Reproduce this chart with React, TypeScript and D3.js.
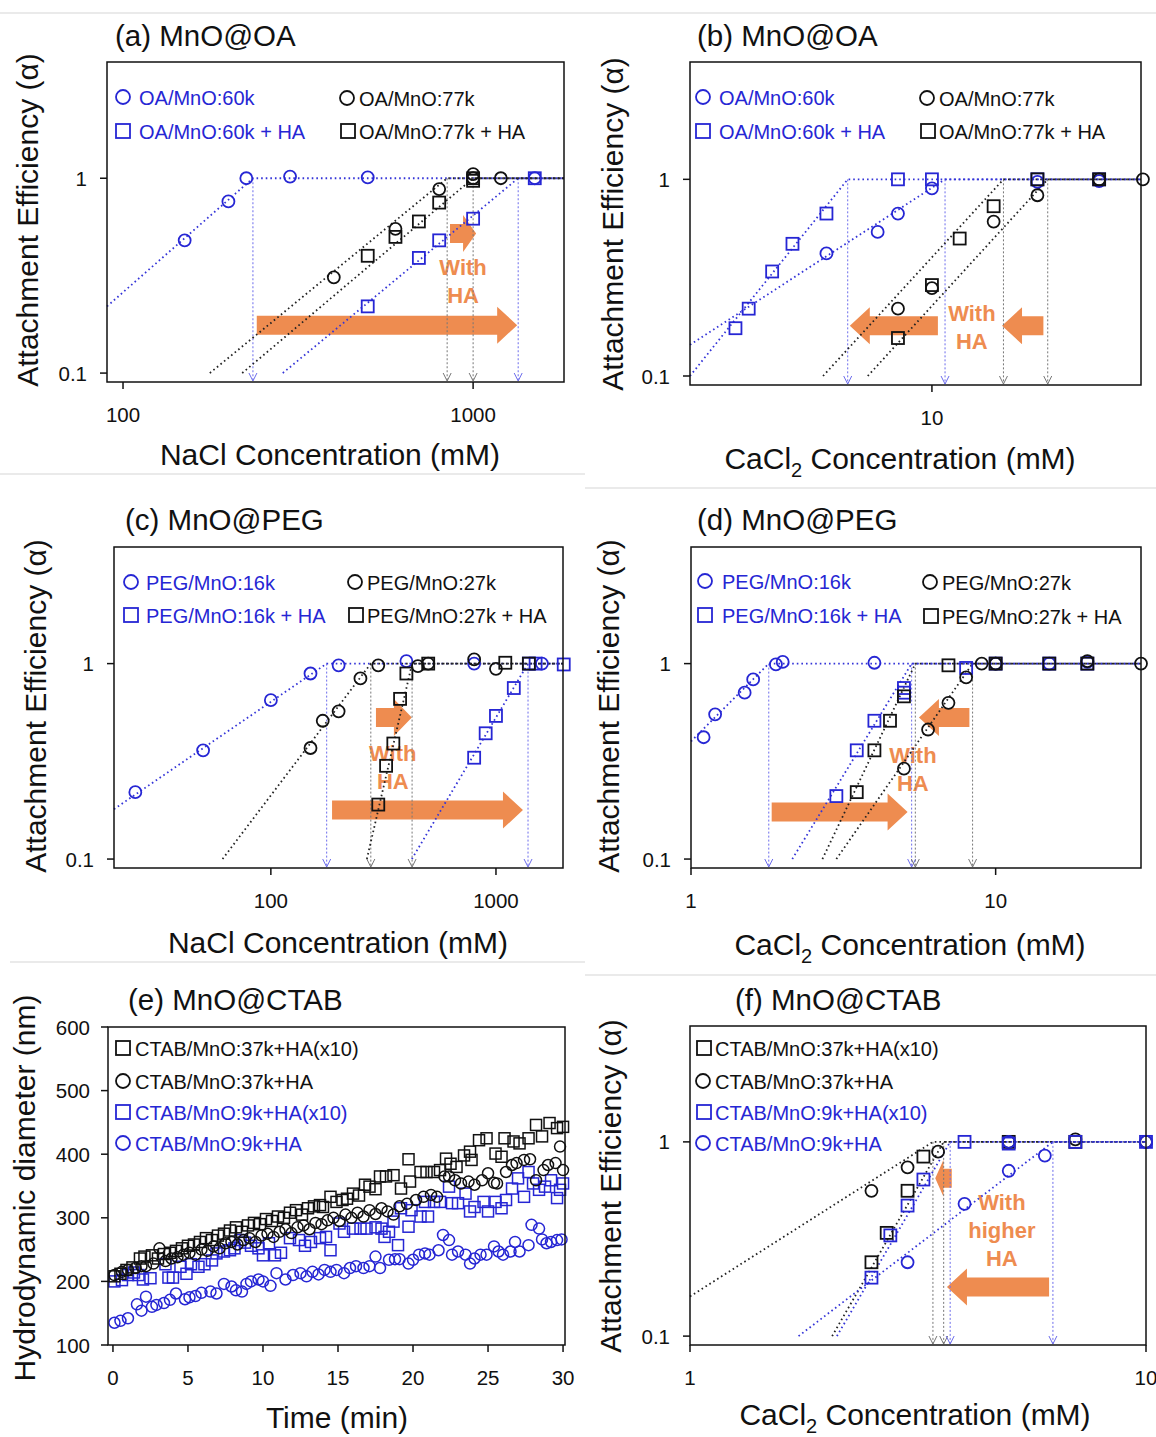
import React from "react";
import * as d3 from "d3";

// ---------- (a) MnO@OA, NaCl ----------
const aOA60 = [[150, 0.48], [200, 0.76], [225, 1.0], [300, 1.02], [500, 1.01], [1500, 1.0]];
const aOA60HA = [[500, 0.22], [700, 0.39], [800, 0.48], [1000, 0.62], [1500, 1.0]];
const aOA77 = [[400, 0.31], [600, 0.55], [800, 0.88], [1000, 1.05], [1000, 1.0], [1200, 1.0]];
const aOA77HA = [[500, 0.4], [600, 0.5], [700, 0.6], [800, 0.75], [1000, 1.0], [1000, 0.97]];
// fits: [start conc, start alpha, critical conc]
const aFit60 = [90, 0.22, 235];
const aFit60HA = [286, 0.1, 1345];
const aFit77 = [177, 0.1, 843];
const aFit77HA = [219, 0.1, 1000];
const aArrows = [[859, 1020, 0.52], [241, 1336, 0.176]];
const aNote = [936, 0.35];

// ---------- (b) MnO@OA, CaCl2 ----------
const bOA60 = [[5, 0.42], [7, 0.54], [8, 0.67], [10, 0.9], [20, 0.97], [30, 0.98]];
const bOA60HA = [[2.75, 0.175], [3, 0.22], [3.5, 0.34], [4, 0.47], [5, 0.67], [8, 1.0], [10, 1.0], [20, 1.0], [30, 1.0]];
const bOA77 = [[8, 0.22], [10, 0.28], [15, 0.61], [20, 0.83], [30, 1.0], [40, 1.0]];
const bOA77HA = [[8, 0.156], [10, 0.29], [12, 0.5], [15, 0.73], [20, 1.0], [30, 1.0]];
const bFit60 = [2.04, 0.144, 10.9];
const bFit60HA = [2.04, 0.1, 5.75];
const bFit77 = [6.56, 0.1, 21.4];
const bFit77HA = [4.89, 0.1, 16];
const bArrows = [[10.4, 5.83, 0.18], [20.8, 15.85, 0.18]];
const bNote = [13.0, 0.21];

// ---------- (c) MnO@PEG, NaCl ----------
const cPEG16 = [[25, 0.22], [50, 0.36], [100, 0.65], [150, 0.89], [200, 0.98], [400, 1.03], [800, 1.0], [1600, 1.0]];
const cPEG16HA = [[800, 0.33], [900, 0.44], [1000, 0.54], [1200, 0.75], [1400, 1.0], [1500, 1.0], [2000, 0.99]];
const cPEG27 = [[150, 0.37], [170, 0.51], [200, 0.57], [250, 0.84], [300, 0.98], [450, 0.97], [500, 1.0], [800, 1.05], [1000, 0.94]];
const cPEG27HA = [[300, 0.19], [325, 0.3], [350, 0.39], [375, 0.66], [400, 0.89], [500, 1.0], [1100, 1.01], [1400, 1.0]];
const cFit16 = [20.1, 0.18, 177];
const cFit16HA = [423, 0.1, 1388];
const cFit27 = [61, 0.1, 278];
const cFit27HA = [267, 0.1, 424];
const cArrows = [[293, 423, 0.53], [187, 1318, 0.178]];
const cNote = [348, 0.35];

// ---------- (d) MnO@PEG, CaCl2 ----------
const dPEG16 = [[1.1, 0.42], [1.2, 0.55], [1.5, 0.71], [1.6, 0.83], [1.9, 0.99], [2, 1.02], [4, 1.01], [10, 1.0], [15, 1.0], [20, 1.02]];
const dPEG16HA = [[3, 0.21], [3.5, 0.36], [4, 0.51], [5, 0.71], [5, 0.75], [8, 0.95], [10, 1.0], [15, 1.0], [20, 1.0]];
const dPEG27 = [[5, 0.29], [6, 0.46], [7, 0.63], [8, 0.85], [9, 1.0], [10, 1.0], [20, 1.03], [30, 1.0]];
const dPEG27HA = [[3.5, 0.22], [4, 0.36], [4.5, 0.51], [5, 0.68], [7, 0.98], [10, 1.0], [15, 1.0], [20, 1.0]];
const dFit16 = [1, 0.4, 1.8];
const dFit16HA = [2.15, 0.1, 5.3];
const dFit27 = [3.0, 0.1, 8.4];
const dFit27HA = [2.7, 0.1, 5.45];
const dArrows = [[1.84, 5.14, 0.174], [8.2, 5.6, 0.53]];
const dNote = [5.35, 0.34];

// ---------- (e) MnO@CTAB, time series [min, nm] ----------
const e37x10 = [[0.1, 208], [0.5, 212], [0.9, 218], [1.3, 222], [1.8, 236], [2.1, 239], [2.6, 241], [3.0, 236], [3.4, 243], [3.8, 245], [4.2, 248], [4.6, 252], [5.0, 256], [5.4, 258], [5.8, 262], [6.2, 268], [6.6, 265], [7.0, 272], [7.4, 275], [7.8, 280], [8.2, 285], [8.6, 278], [9.0, 288], [9.4, 292], [9.8, 290], [10.2, 298], [10.6, 295], [11.0, 302], [11.4, 300], [11.8, 308], [12.2, 312], [12.6, 305], [13.0, 315], [13.4, 318], [13.8, 320], [14.0, 317], [14.5, 333], [14.9, 325], [15.3, 328], [15.6, 330], [16.0, 338], [16.4, 335], [16.8, 352], [17.1, 349], [17.5, 345], [17.8, 365], [18.2, 365], [18.7, 367], [19.2, 346], [19.7, 392], [19.8, 357], [20.5, 372], [20.9, 372], [21.4, 372], [21.8, 375], [22.2, 393], [22.5, 385], [22.9, 380], [23.4, 398], [23.8, 404], [23.9, 391], [24.4, 422], [24.9, 425], [25.5, 401], [25.9, 396], [26.1, 425], [26.7, 420], [27.1, 417], [27.7, 425], [28.2, 446], [28.6, 428], [29.1, 449], [29.6, 441], [30.0, 443]];
const e37 = [[0.1, 210], [0.6, 215], [1.0, 218], [1.5, 221], [1.9, 224], [2.2, 224], [2.7, 228], [3.1, 252], [3.5, 232], [3.9, 236], [4.3, 238], [4.7, 242], [5.1, 245], [5.5, 242], [5.9, 250], [6.3, 248], [6.7, 255], [7.1, 252], [7.5, 260], [7.9, 262], [8.3, 258], [8.7, 265], [9.1, 268], [9.5, 262], [9.9, 272], [10.3, 275], [10.7, 270], [11.1, 278], [11.5, 282], [11.9, 276], [12.3, 285], [12.7, 288], [13.1, 282], [13.5, 292], [13.9, 290], [14.3, 296], [14.7, 300], [15.1, 295], [15.5, 305], [15.9, 300], [16.3, 308], [16.7, 302], [17.1, 312], [17.5, 306], [17.9, 315], [18.3, 310], [18.7, 305], [19.1, 318], [19.6, 322], [20.2, 328], [20.7, 333], [21.2, 336], [21.6, 333], [22.1, 365], [22.4, 365], [22.8, 359], [23.2, 354], [23.7, 357], [24.1, 352], [24.6, 359], [25.0, 370], [25.4, 355], [25.6, 354], [26.2, 372], [26.6, 383], [26.9, 386], [27.4, 391], [27.8, 392], [28.2, 359], [28.7, 375], [29.0, 383], [29.5, 386], [29.8, 412], [30.0, 375]];
const e9x10 = [[0.1, 200], [0.6, 202], [1.0, 210], [1.4, 214], [1.7, 210], [2.0, 203], [2.5, 205], [3.5, 227], [3.7, 206], [4.0, 206], [4.5, 223], [4.9, 212], [5.2, 227], [5.7, 223], [6.1, 227], [6.6, 233], [6.9, 244], [7.4, 247], [7.8, 249], [8.1, 252], [8.5, 265], [8.8, 261], [9.2, 256], [9.7, 252], [10.0, 241], [10.4, 260], [10.8, 241], [11.2, 245], [11.8, 268], [12.4, 265], [12.8, 256], [13.2, 262], [13.8, 268], [14.2, 270], [14.5, 249], [15.1, 291], [15.4, 278], [16.0, 283], [16.5, 283], [16.9, 283], [17.5, 285], [17.9, 283], [18.1, 270], [18.4, 278], [18.7, 294], [19.0, 257], [19.2, 315], [19.7, 286], [19.9, 312], [20.5, 302], [20.8, 325], [21.0, 302], [21.4, 325], [21.8, 325], [22.4, 349], [22.6, 323], [23.0, 323], [23.5, 338], [23.8, 310], [24.1, 317], [24.7, 325], [25.0, 310], [25.5, 325], [25.9, 315], [26.2, 328], [26.6, 346], [27.0, 362], [27.4, 333], [27.7, 372], [28.0, 354], [28.4, 344], [28.8, 349], [29.2, 359], [29.6, 331], [29.8, 344], [30.0, 354]];
const e9 = [[0.1, 135], [0.5, 138], [1.0, 142], [1.6, 164], [1.9, 154], [2.2, 176], [2.6, 160], [2.9, 163], [3.4, 166], [3.8, 171], [4.2, 181], [4.8, 172], [5.1, 175], [5.5, 177], [5.9, 182], [6.5, 184], [6.9, 181], [7.4, 196], [7.9, 192], [8.2, 186], [8.6, 184], [8.9, 196], [9.2, 200], [9.7, 203], [10.0, 200], [10.5, 193], [10.9, 213], [11.5, 203], [12.0, 210], [12.5, 213], [12.9, 208], [13.3, 215], [13.7, 211], [14.1, 218], [14.5, 215], [14.9, 218], [15.4, 213], [15.8, 221], [16.2, 224], [16.7, 221], [17.1, 224], [17.5, 239], [17.8, 221], [18.4, 234], [18.8, 235], [19.1, 235], [19.7, 228], [20.0, 234], [20.4, 242], [20.8, 244], [21.1, 242], [21.7, 249], [22.0, 273], [22.4, 265], [22.6, 242], [23.0, 247], [23.5, 242], [23.8, 228], [24.1, 236], [24.5, 242], [24.9, 242], [25.4, 255], [25.7, 247], [26.0, 242], [26.5, 247], [26.8, 262], [27.1, 247], [27.7, 257], [27.9, 289], [28.4, 283], [28.6, 266], [28.9, 260], [29.2, 262], [29.6, 265], [29.9, 266]];
const eTimeTicks = [0, 5, 10, 15, 20, 25, 30];
const eSizeTicks = [100, 200, 300, 400, 500, 600];

// ---------- (f) MnO@CTAB, CaCl2 ----------
const f37x10 = [[2.5, 0.24], [2.7, 0.34], [3, 0.56], [3.25, 0.84], [5, 1.0], [7, 1.0]];
const f37 = [[2.5, 0.56], [3, 0.74], [3.5, 0.89], [5, 1.0], [7, 1.03], [10, 1.0]];
const f9x10 = [[2.5, 0.2], [2.75, 0.33], [3, 0.47], [3.25, 0.64], [4, 1.0], [5, 0.98], [7, 1.0], [10, 1.0]];
const f9 = [[3, 0.24], [4, 0.48], [5, 0.71], [6, 0.85], [5, 1.0], [10, 1.0]];
const fFit37x10 = [2.05, 0.1, 3.6];
const fFit37 = [1, 0.16, 3.41];
const fFit9x10 = [2.1, 0.1, 3.72];
const fFit9 = [1.73, 0.1, 6.25];
const fArrows = [[3.75, 3.45, 0.65], [6.13, 3.66, 0.179]];
const fNote = [4.83, 0.49];

const alphaTicks = [0.1, 1];
const Y_DOMAIN = [0.09, 3.95];

const FONT = "'Liberation Sans', Arial, Helvetica, sans-serif";
const BLUE = "#2626d4";
const BLACK = "#111111";
const ORANGE = "#ee8c50";

function Marker({ shape, cx, cy, color, s, sw }: any) {
  if (shape === "circle")
    return <circle cx={cx} cy={cy} r={s / 2} fill="none" stroke={color} strokeWidth={sw} />;
  return <rect x={cx - s / 2} y={cy - s / 2} width={s} height={s} fill="none" stroke={color} strokeWidth={sw} />;
}

function arrowPath(x1: number, x2: number, y: number) {
  const dir = Math.sign(x2 - x1);
  const hl = Math.min(20, Math.abs(x2 - x1) * 0.5);
  const xb = x2 - dir * hl;
  const sh = 9.5, hh = 18.5;
  return `M${x1},${y - sh}L${xb},${y - sh}L${xb},${y - hh}L${x2},${y}L${xb},${y + hh}L${xb},${y + sh}L${x1},${y + sh}Z`;
}

const cacl2 = (
  <>
    CaCl<tspan fontSize={20} dy={8}>2</tspan><tspan dy={-8}> Concentration (mM)</tspan>
  </>
);

function AlphaPanel({ p }: any) {
  const x = d3.scaleLog().domain(p.xDomain).range([p.left, p.right]);
  const y = d3.scaleLog().domain(Y_DOMAIN).range([p.bottom, p.top]);
  const xmax = p.xDomain[1];
  const line = d3.line<number[]>().x((d) => x(d[0])).y((d) => y(d[1]));
  return (
    <g>
      <text x={p.titleX} y={p.titleY} fontSize={29.5}>{p.title}</text>
      {p.arrows.map((a: number[], i: number) => (
        <path key={i} d={arrowPath(x(a[0]), x(a[1]), y(a[2]))} fill={ORANGE} />
      ))}
      <text textAnchor="middle" fontWeight="bold" fontSize={22} fill={ORANGE}>
        {p.noteLines.map((l: string, i: number) => (
          <tspan key={i} x={x(p.note[0])} y={y(p.note[1]) + 8 + i * 28}>{l}</tspan>
        ))}
      </text>
      {p.series.map((s: any, i: number) => {
        const [x0, y0, xc] = s.fit;
        const xs = x(xc);
        const drop = s.color === BLUE ? "#6c6cec" : "#777";
        return (
          <g key={i}>
            <line x1={xs} x2={xs} y1={y(1)} y2={p.bottom - 1} stroke={drop} strokeWidth={1} strokeDasharray="2 2" />
            <path d={`M${xs - 4},${p.bottom - 9}L${xs},${p.bottom - 1}L${xs + 4},${p.bottom - 9}`} fill="none" stroke={drop} strokeWidth={1} />
            <path d={line([[x0, y0], [xc, 1], [xmax, 1]]) || ""} fill="none" stroke={s.color === BLUE ? "#3434d8" : "#222"} strokeWidth={1.8} strokeDasharray="1.6 3" />
          </g>
        );
      })}
      {p.series.map((s: any, i: number) =>
        s.pts.map((d: number[], j: number) => (
          <Marker key={i + "-" + j} shape={s.shape} cx={x(d[0])} cy={y(d[1])} color={s.color} s={12} sw={1.8} />
        ))
      )}
      <rect x={p.left} y={p.top} width={p.right - p.left} height={p.bottom - p.top} fill="none" stroke="#111" strokeWidth={1.5} />
      {alphaTicks.map((t) => (
        <g key={t}>
          <line x1={p.left - 7} x2={p.left} y1={y(t)} y2={y(t)} stroke="#111" strokeWidth={1.5} />
          <text x={p.left - 20} y={y(t)} textAnchor="end" dominantBaseline="central" fontSize={20.5}>{t}</text>
        </g>
      ))}
      {p.xTicks.map((t: number) => (
        <g key={t}>
          <line x1={x(t)} x2={x(t)} y1={p.bottom} y2={p.bottom + 7} stroke="#111" strokeWidth={1.5} />
          <text x={x(t)} y={p.bottom + 40} textAnchor="middle" fontSize={20.5}>{t}</text>
        </g>
      ))}
      <text x={p.xLabelX} y={p.xLabelY} textAnchor="middle" fontSize={30}>{p.xLabel}</text>
      <text transform={`translate(${p.yLabelX},${p.yLabelY}) rotate(-90)`} textAnchor="middle" dominantBaseline="central" fontSize={30}>
        Attachment Efficiency (α)
      </text>
      {p.series.map((s: any, i: number) => (
        <g key={"lg" + i}>
          <Marker shape={s.shape} cx={s.lx} cy={s.ly} color={s.color} s={14} sw={1.8} />
          <text x={s.lx + s.tdx} y={s.ly + 1} dominantBaseline="central" fontSize={20} fill={s.color}>{s.label}</text>
        </g>
      ))}
    </g>
  );
}

function TimePanel() {
  const left = 108, right = 565, top = 1027, bottom = 1345;
  const x = d3.scaleLinear().domain([-0.33, 30.13]).range([left, right]);
  const y = d3.scaleLinear().domain([100, 600]).range([bottom, top]);
  const series = [
    { pts: e9, shape: "circle", color: BLUE },
    { pts: e9x10, shape: "square", color: BLUE },
    { pts: e37, shape: "circle", color: BLACK },
    { pts: e37x10, shape: "square", color: BLACK },
  ];
  const legend = [
    { shape: "square", color: BLACK, label: "CTAB/MnO:37k+HA(x10)", ly: 1048 },
    { shape: "circle", color: BLACK, label: "CTAB/MnO:37k+HA", ly: 1081 },
    { shape: "square", color: BLUE, label: "CTAB/MnO:9k+HA(x10)", ly: 1112 },
    { shape: "circle", color: BLUE, label: "CTAB/MnO:9k+HA", ly: 1143 },
  ];
  return (
    <g>
      <text x={128} y={1010} fontSize={29.5}>(e) MnO@CTAB</text>
      {series.map((s, i) =>
        s.pts.map((d, j) => (
          <Marker key={i + "-" + j} shape={s.shape} cx={x(d[0])} cy={y(d[1])} color={s.color} s={11} sw={1.5} />
        ))
      )}
      <rect x={left} y={top} width={right - left} height={bottom - top} fill="none" stroke="#111" strokeWidth={1.5} />
      {eSizeTicks.map((t) => (
        <g key={t}>
          <line x1={left - 7} x2={left} y1={y(t)} y2={y(t)} stroke="#111" strokeWidth={1.5} />
          <text x={left - 18} y={y(t)} textAnchor="end" dominantBaseline="central" fontSize={20.5}>{t}</text>
        </g>
      ))}
      {eTimeTicks.map((t) => (
        <g key={t}>
          <line x1={x(t)} x2={x(t)} y1={bottom} y2={bottom + 7} stroke="#111" strokeWidth={1.5} />
          <text x={x(t)} y={bottom + 40} textAnchor="middle" fontSize={20.5}>{t}</text>
        </g>
      ))}
      <text x={337} y={1428} textAnchor="middle" fontSize={30}>Time (min)</text>
      <text transform="translate(24,1188) rotate(-90)" textAnchor="middle" dominantBaseline="central" fontSize={30}>
        Hydrodynamic diameter (nm)
      </text>
      {legend.map((l, i) => (
        <g key={i}>
          <Marker shape={l.shape} cx={123} cy={l.ly} color={l.color} s={14} sw={1.8} />
          <text x={135} y={l.ly + 1} dominantBaseline="central" fontSize={20} fill={l.color}>{l.label}</text>
        </g>
      ))}
    </g>
  );
}

const panels = [
  {
    title: "(a) MnO@OA", titleX: 115, titleY: 46, left: 107, right: 564, top: 62, bottom: 382,
    xDomain: [90, 1818], xTicks: [100, 1000], xLabel: "NaCl Concentration (mM)", xLabelX: 330, xLabelY: 465,
    yLabelX: 27, yLabelY: 220, arrows: aArrows, note: aNote, noteLines: ["With", "HA"],
    series: [
      { pts: aOA60, fit: aFit60, color: BLUE, shape: "circle", label: "OA/MnO:60k", lx: 123, ly: 97, tdx: 16 },
      { pts: aOA60HA, fit: aFit60HA, color: BLUE, shape: "square", label: "OA/MnO:60k + HA", lx: 123, ly: 131, tdx: 16 },
      { pts: aOA77, fit: aFit77, color: BLACK, shape: "circle", label: "OA/MnO:77k", lx: 347, ly: 98, tdx: 12 },
      { pts: aOA77HA, fit: aFit77HA, color: BLACK, shape: "square", label: "OA/MnO:77k + HA", lx: 348, ly: 131, tdx: 11 },
    ],
  },
  {
    title: "(b) MnO@OA", titleX: 697, titleY: 46, left: 690, right: 1141, top: 62, bottom: 385,
    xDomain: [2.04, 39.5], xTicks: [10], xLabel: cacl2, xLabelX: 900, xLabelY: 469,
    yLabelX: 612, yLabelY: 224, arrows: bArrows, note: bNote, noteLines: ["With", "HA"],
    series: [
      { pts: bOA60, fit: bFit60, color: BLUE, shape: "circle", label: "OA/MnO:60k", lx: 703, ly: 97, tdx: 16 },
      { pts: bOA60HA, fit: bFit60HA, color: BLUE, shape: "square", label: "OA/MnO:60k + HA", lx: 703, ly: 131, tdx: 16 },
      { pts: bOA77, fit: bFit77, color: BLACK, shape: "circle", label: "OA/MnO:77k", lx: 927, ly: 98, tdx: 12 },
      { pts: bOA77HA, fit: bFit77HA, color: BLACK, shape: "square", label: "OA/MnO:77k + HA", lx: 928, ly: 131, tdx: 11 },
    ],
  },
  {
    title: "(c) MnO@PEG", titleX: 125, titleY: 530, left: 114, right: 563, top: 547, bottom: 868,
    xDomain: [20.1, 1985], xTicks: [100, 1000], xLabel: "NaCl Concentration (mM)", xLabelX: 338, xLabelY: 953,
    yLabelX: 35, yLabelY: 706, arrows: cArrows, note: cNote, noteLines: ["With", "HA"],
    series: [
      { pts: cPEG16, fit: cFit16, color: BLUE, shape: "circle", label: "PEG/MnO:16k", lx: 131, ly: 582, tdx: 15 },
      { pts: cPEG16HA, fit: cFit16HA, color: BLUE, shape: "square", label: "PEG/MnO:16k + HA", lx: 131, ly: 615, tdx: 15 },
      { pts: cPEG27, fit: cFit27, color: BLACK, shape: "circle", label: "PEG/MnO:27k", lx: 355, ly: 582, tdx: 12 },
      { pts: cPEG27HA, fit: cFit27HA, color: BLACK, shape: "square", label: "PEG/MnO:27k + HA", lx: 356, ly: 615, tdx: 11 },
    ],
  },
  {
    title: "(d) MnO@PEG", titleX: 697, titleY: 530, left: 691, right: 1141, top: 547, bottom: 868,
    xDomain: [1, 30], xTicks: [1, 10], xLabel: cacl2, xLabelX: 910, xLabelY: 955,
    yLabelX: 608, yLabelY: 706, arrows: dArrows, note: dNote, noteLines: ["With", "HA"],
    series: [
      { pts: dPEG16, fit: dFit16, color: BLUE, shape: "circle", label: "PEG/MnO:16k", lx: 705, ly: 581, tdx: 17 },
      { pts: dPEG16HA, fit: dFit16HA, color: BLUE, shape: "square", label: "PEG/MnO:16k + HA", lx: 705, ly: 615, tdx: 17 },
      { pts: dPEG27, fit: dFit27, color: BLACK, shape: "circle", label: "PEG/MnO:27k", lx: 930, ly: 582, tdx: 12 },
      { pts: dPEG27HA, fit: dFit27HA, color: BLACK, shape: "square", label: "PEG/MnO:27k + HA", lx: 931, ly: 616, tdx: 11 },
    ],
  },
  {
    title: "(f) MnO@CTAB", titleX: 735, titleY: 1010, left: 690, right: 1146, top: 1026, bottom: 1345,
    xDomain: [1, 10], xTicks: [1, 10], xLabel: cacl2, xLabelX: 915, xLabelY: 1425,
    yLabelX: 610, yLabelY: 1186, arrows: fArrows, note: fNote, noteLines: ["With", "higher", "HA"],
    series: [
      { pts: f37x10, fit: fFit37x10, color: BLACK, shape: "square", label: "CTAB/MnO:37k+HA(x10)", lx: 704, ly: 1048, tdx: 11 },
      { pts: f37, fit: fFit37, color: BLACK, shape: "circle", label: "CTAB/MnO:37k+HA", lx: 703, ly: 1081, tdx: 12 },
      { pts: f9x10, fit: fFit9x10, color: BLUE, shape: "square", label: "CTAB/MnO:9k+HA(x10)", lx: 704, ly: 1112, tdx: 11 },
      { pts: f9, fit: fFit9, color: BLUE, shape: "circle", label: "CTAB/MnO:9k+HA", lx: 703, ly: 1143, tdx: 12 },
    ],
  },
];

export default function App() {
  return (
    <svg width={1156} height={1437} style={{ position: "absolute", left: 0, top: 0, background: "#fff" }}
      fontFamily={FONT} fill="#111">
      <rect width={1156} height={1437} fill="#fff" />
      <g stroke="#d6d6d6" strokeWidth={1.2}>
        <line x1={0} x2={1156} y1={13} y2={13} />
        <line x1={0} x2={585} y1={474} y2={474} />
        <line x1={585} x2={1156} y1={488} y2={488} />
        <line x1={10} x2={585} y1={962} y2={962} />
        <line x1={585} x2={1156} y1={975} y2={975} />
      </g>
      {panels.map((p, i) => <AlphaPanel key={i} p={p} />)}
      <TimePanel />
    </svg>
  );
}
